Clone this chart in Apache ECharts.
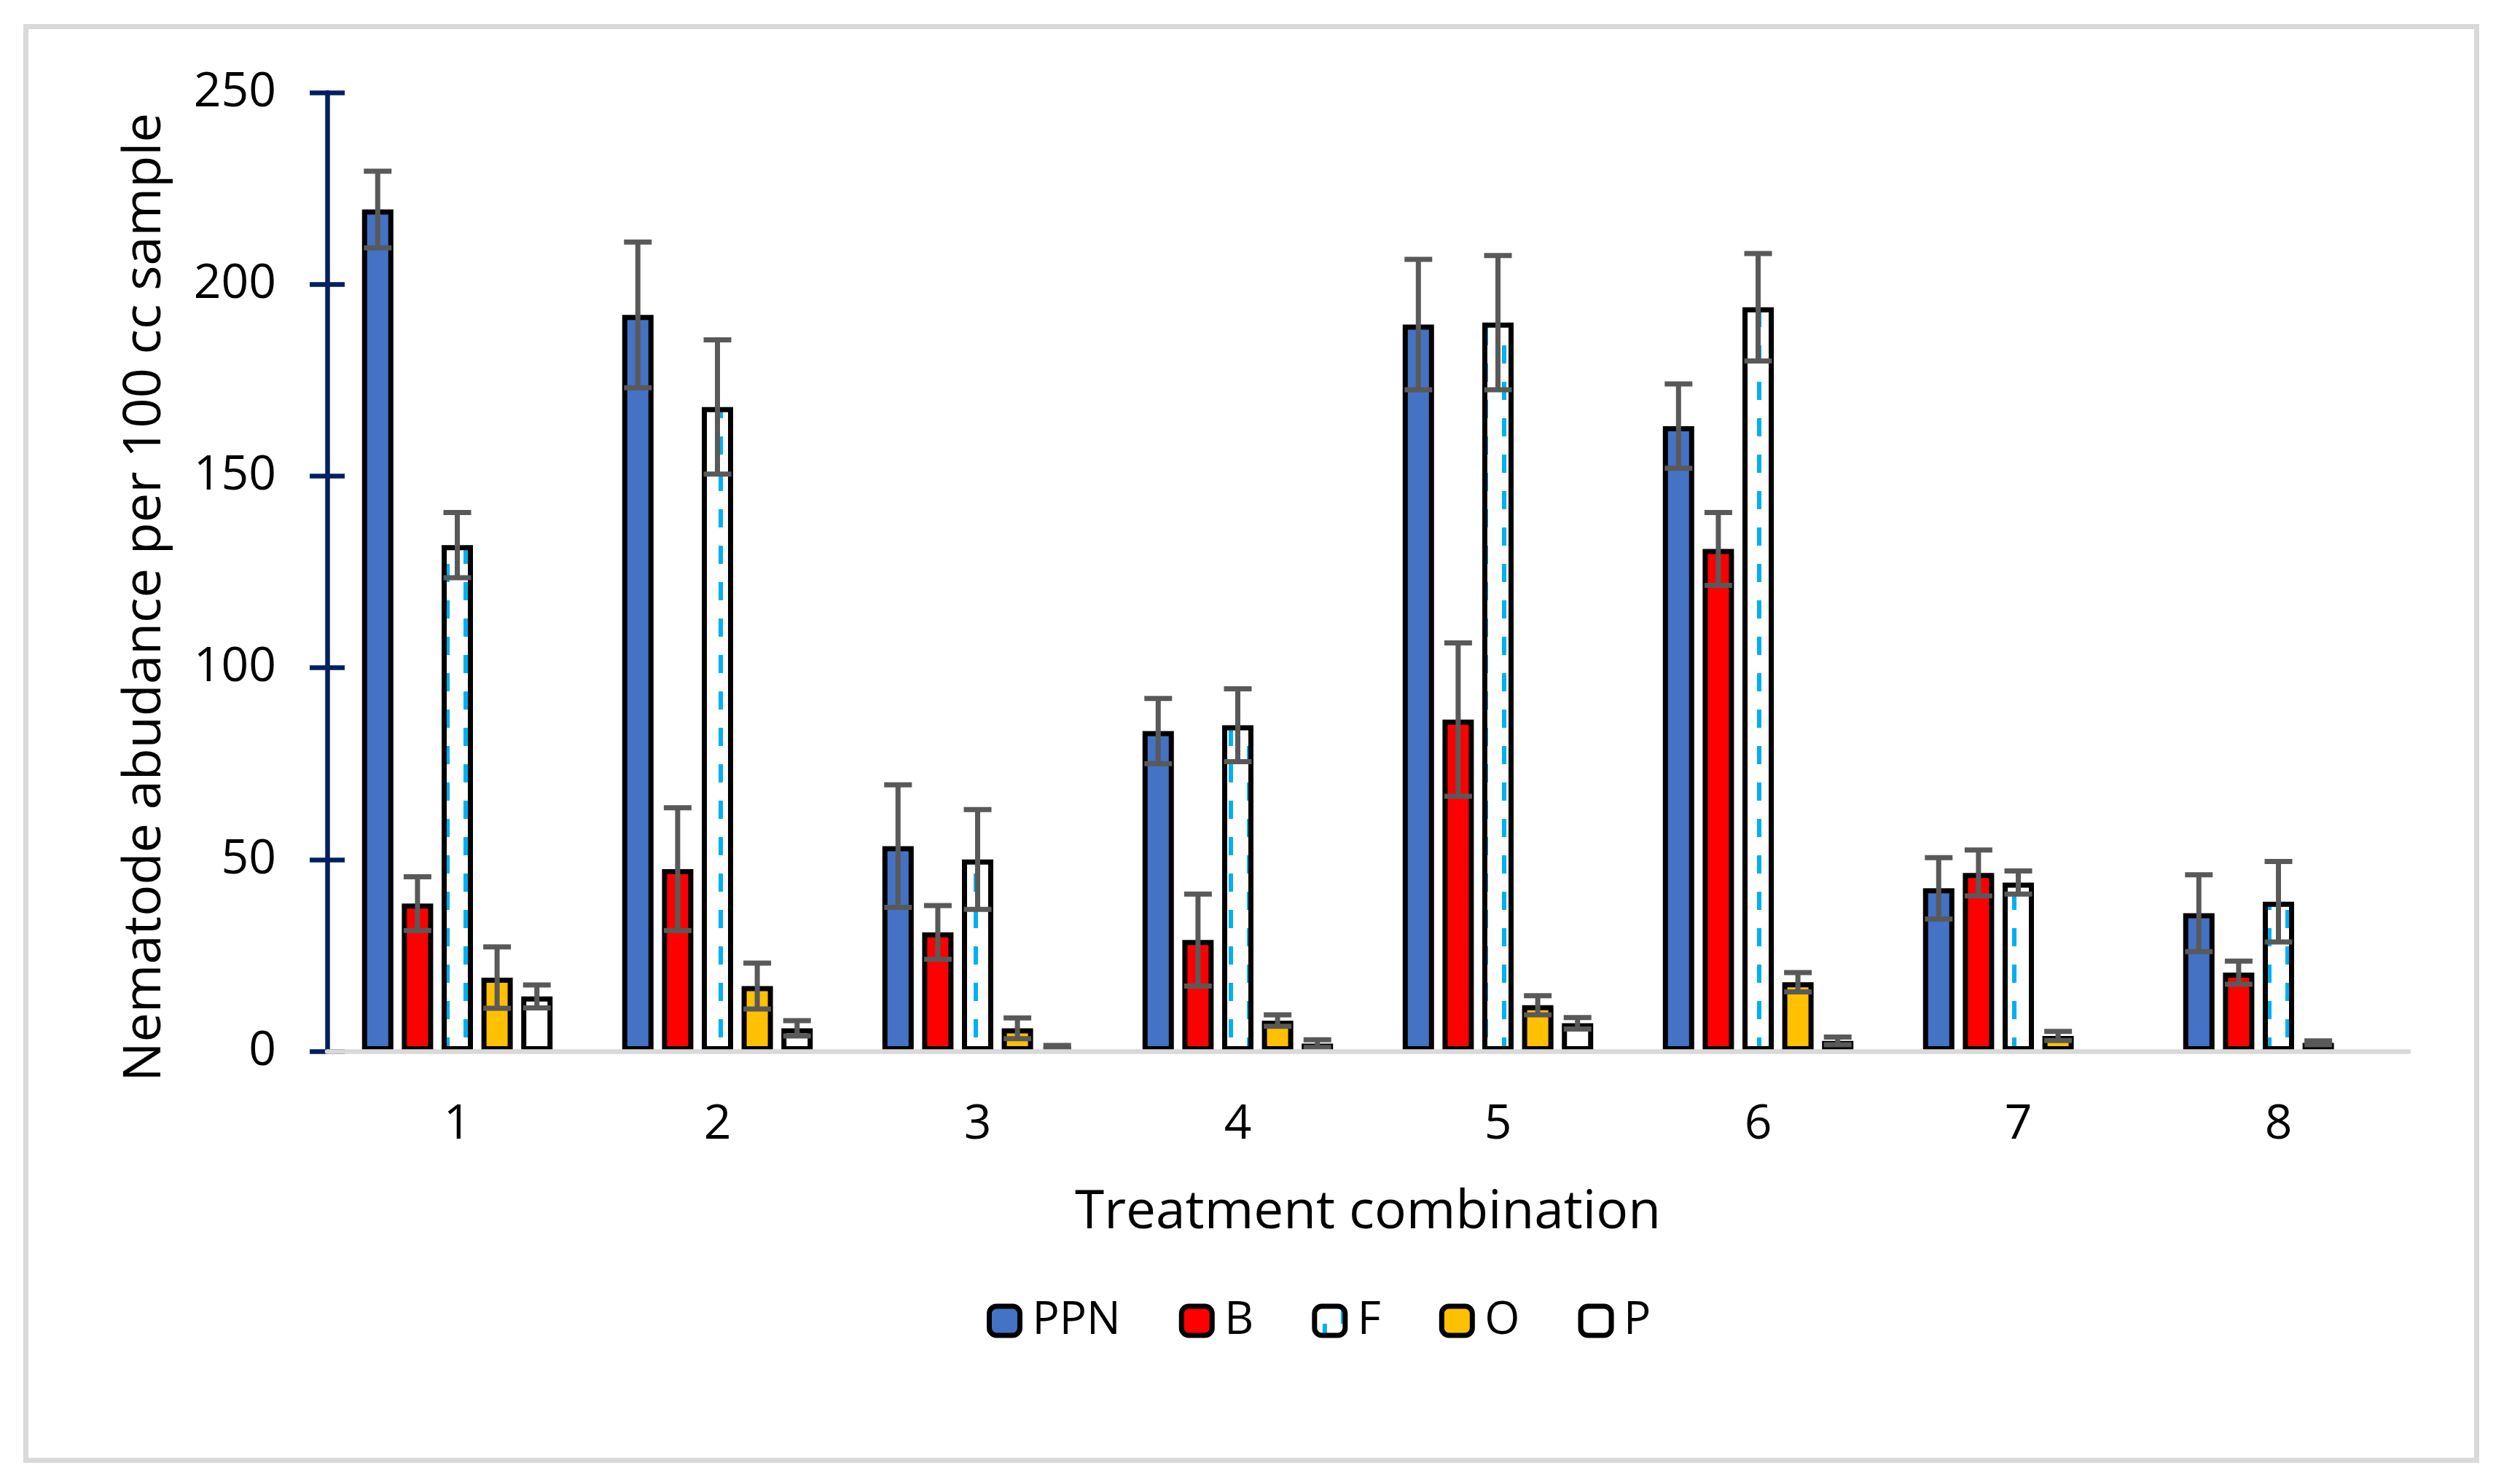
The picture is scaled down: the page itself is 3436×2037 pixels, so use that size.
<!DOCTYPE html>
<html>
<head>
<meta charset="utf-8">
<script src="https://cdn.jsdelivr.net/npm/echarts@6/dist/echarts.min.js"></script>
<style>
html,body{margin:0;padding:0;background:#fff;}
#chart{width:3436px;height:2037px;}
</style>
</head>
<body>
<div id="chart"></div>
<script>
// ---- data ----
const categories = ['1','2','3','4','5','6','7','8'];
const seriesNames = ['PPN','B','F','O','P'];
const ppn    = [219.5, 192, 53.5, 83.5, 189.5, 163, 42.5, 36];
const ppnErr = [10, 19, 16, 8.5, 17, 11, 8, 10];
const bVal   = [38.5, 47.5, 31, 29, 86.5, 131, 46.5, 20.5];
const bErr   = [7, 16, 7, 12, 20, 9.5, 6, 3];
const fVal   = [132, 168, 50, 85, 190, 194, 44, 39];
const fErr   = [8.5, 17.5, 13, 9.5, 17.5, 14, 3, 10.5];
const oVal   = [19.2, 17, 6, 8, 12, 18, 4, 2.2];
const oErr   = [8, 6, 2.7, 1.5, 2.5, 2.5, 1.2, 0.5];
const pVal   = [14.3, 6, 1, 2, 7.3, 2.7, 0, 0];
const pErr   = [3, 2, 0.5, 1, 1.5, 1, 0, 0];
const yTicks = [0, 50, 100, 150, 200, 250];

const values = [ppn, bVal, fVal, oVal, pVal];
const errors = [ppnErr, bErr, fErr, oErr, pErr];

// ---- styles ----
const FONT = '"Open Sans", "Noto Sans", sans-serif';
const BAR_W = 43, BAR_GAP = 0.27;
const SPACING = BAR_W * (1 + BAR_GAP);

// dashed-vertical pattern for F
const tile = document.createElement('canvas');
tile.width = 50; tile.height = 50;
const tctx = tile.getContext('2d');
tctx.fillStyle = '#ffffff'; tctx.fillRect(0,0,50,50);
tctx.fillStyle = '#00b0f0';
tctx.fillRect(11, 24, 6, 25);
tctx.fillRect(36, 0, 6, 24);
tctx.fillRect(36, 49, 6, 1);
const fPattern = {image: tile, repeat: 'repeat'};

const fills = ['#4472c4', '#ff0000', fPattern, '#ffc000', '#ffffff'];

const barSeries = seriesNames.map((n, i) => ({
  name: n, type: 'bar', xAxisIndex: 0, yAxisIndex: 0,
  data: values[i].map(v => v === 0 ? {value: 0, itemStyle: {borderWidth: 0, opacity: 0}} : v),
  barWidth: BAR_W, barGap: (BAR_GAP*100) + '%',
  itemStyle: {color: fills[i], borderColor: '#000000', borderWidth: 7},
  emphasis: {disabled: true},
  z: 2
}));

const errData = [];
values.forEach((arr, si) => arr.forEach((v, ci) => {
  errData.push([ci, v - errors[si][ci], v + errors[si][ci], si]);
}));

const errSeries = {
  type: 'custom', xAxisIndex: 0, yAxisIndex: 0, z: 5, clip: false,
  encode: {x: 0, y: [1, 2]},
  data: errData,
  renderItem: function (params, api) {
    const c = api.value(0), lo = api.value(1), hi = api.value(2), si = api.value(3);
    if (hi - lo <= 0) return;
    const p1 = api.coord([c, Math.max(lo, 0)]);
    const p2 = api.coord([c, hi]);
    const x = p1[0] + (si - 2) * SPACING;
    const st = {stroke: '#595959', lineWidth: 7, lineCap: 'butt'};
    return {type: 'group', children: [
      {type: 'line', shape: {x1: x, y1: p1[1], x2: x, y2: p2[1]}, style: st},
      {type: 'line', shape: {x1: x - 19, y1: p1[1], x2: x + 19, y2: p1[1]}, style: st},
      {type: 'line', shape: {x1: x - 19, y1: p2[1], x2: x + 19, y2: p2[1]}, style: st}
    ]};
  }
};

const gridRect = {left: 449, right: 131, top: 127, bottom: 594};

const option = {
  animation: false,
  backgroundColor: '#ffffff',
  textStyle: {fontFamily: FONT},
  graphic: [{
    type: 'rect', z: -1,
    shape: {x: 35.5, y: 36.5, width: 3363, height: 1968},
    style: {fill: 'none', stroke: '#d9d9d9', lineWidth: 7}
  }],
  grid: [Object.assign({}, gridRect), Object.assign({}, gridRect)],
  legend: {
    data: seriesNames,
    left: 1349, top: 1777,
    itemWidth: 42, itemHeight: 40, itemGap: 80,
    icon: 'roundRect',
    itemStyle: {borderWidth: 7, borderColor: '#000'},
    textStyle: {fontFamily: FONT, fontSize: 62, color: '#000', padding: [0, 0, 0, 12]}
  },
  xAxis: [{
    type: 'category', gridIndex: 0, data: categories, z: 10,
    axisLine: {show: true, lineStyle: {color: '#d9d9d9', width: 6.5}},
    axisTick: {show: false},
    axisLabel: {fontFamily: FONT, fontSize: 66, color: '#000', margin: 68},
    name: 'Treatment combination', nameLocation: 'middle', nameGap: 186,
    nameTextStyle: {fontFamily: FONT, fontSize: 73, color: '#000'}
  }, {
    type: 'category', gridIndex: 1, data: categories, show: false
  }],
  yAxis: [{
    type: 'value', gridIndex: 0, min: 0, max: 250, interval: 50,
    axisLine: {show: true, lineStyle: {color: '#002060', width: 6.5}},
    axisTick: {show: true, length: 24, lineStyle: {color: '#002060', width: 6.5}},
    splitLine: {show: false},
    axisLabel: {fontFamily: FONT, fontSize: 66, color: '#000', margin: 70,
      formatter: v => yTicks.indexOf(v) >= 0 ? String(v) : ''},
    name: 'Nematode abudance per 100 cc sample', nameLocation: 'middle', nameGap: 214,
    nameTextStyle: {fontFamily: FONT, fontSize: 72, color: '#000', padding: [0, 70, 0, 0]}
  }, {
    type: 'value', gridIndex: 1, min: 0, max: 250, interval: 50,
    axisLine: {show: false},
    axisTick: {show: true, inside: true, length: 24, lineStyle: {color: '#002060', width: 6.5}},
    axisLabel: {show: false}, splitLine: {show: false}
  }],
  series: barSeries.concat([errSeries])
};

const chart = echarts.init(document.getElementById('chart'), null, {renderer: 'canvas'});
chart.setOption(option);
</script>
</body>
</html>
